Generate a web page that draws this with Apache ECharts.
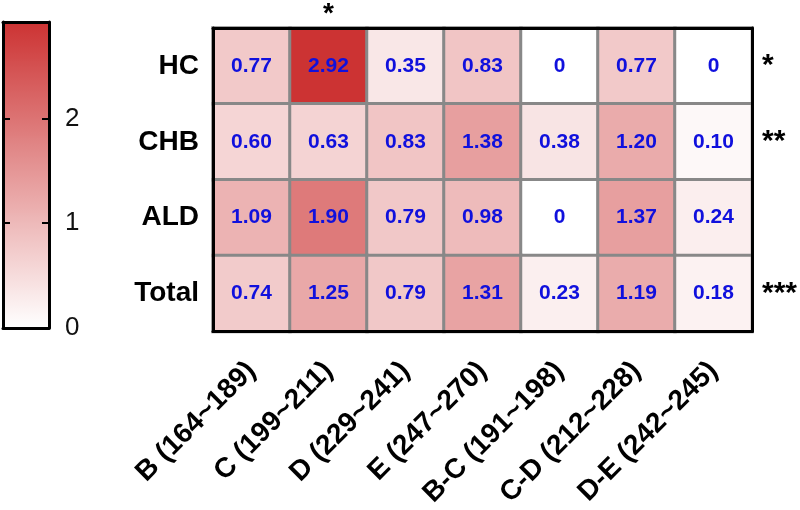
<!DOCTYPE html>
<html>
<head>
<meta charset="utf-8">
<script src="https://cdn.jsdelivr.net/npm/echarts@6/dist/echarts.min.js"></script>
<style>
  html, body { margin: 0; padding: 0; background: #fff; }
  #chart { width: 800px; height: 510px; }
</style>
</head>
<body>
<div id="chart"></div>
<script>
// 区段（横轴）与分组（纵轴）
const regions = ["B (164~189)", "C (199~211)", "D (229~241)", "E (247~270)", "B-C (191~198)", "C-D (212~228)", "D-E (242~245)"];
const groups = ["HC", "CHB", "ALD", "Total"];

// 每组的数值
const hcValues = [0.77, 2.92, 0.35, 0.83, 0, 0.77, 0];
const chbValues = [0.60, 0.63, 0.83, 1.38, 0.38, 1.20, 0.10];
const aldValues = [1.09, 1.90, 0.79, 0.98, 0, 1.37, 0.24];
const totalValues = [0.74, 1.25, 0.79, 1.31, 0.23, 1.19, 0.18];

// 显著性标记
const rowStars = ["*", "**", "", "***"];
const colStars = ["", "*", "", "", "", "", ""];

const colorMax = 2.92;

let rows = [hcValues, chbValues, aldValues, totalValues];
let heatData = [];
rows.forEach(function(vals, r) {
  vals.forEach(function(v, c) {
    heatData.push([c, r, v]);
  });
});

let myChart = echarts.init(document.getElementById("chart"));
let font = "Liberation Sans, Arial, sans-serif";
let blackLine = { onZero: false, lineStyle: { color: "#000", width: 3 } };
let option = {
  animation: false,
  textStyle: { fontFamily: font },
  grid: [
    { left: 213, top: 23, width: 539, height: 309 },
    // 色条
    { left: 3, top: 22, width: 46, height: 306 }
  ],
  xAxis: [
    {
      type: "category", data: regions, gridIndex: 0, position: "bottom", z: 10,
      axisLine: blackLine,
      axisTick: { show: false },
      splitLine: { show: false },
      axisLabel: { rotate: 45, margin: 35, color: "#000", fontWeight: "bold", fontSize: 28, interval: 0 }
    },
    {
      type: "category", data: colStars, gridIndex: 0, position: "top", z: 10,
      axisLine: blackLine,
      axisTick: { show: false },
      axisLabel: { margin: 0, color: "#000", fontWeight: "bold", fontSize: 28, interval: 0 }
    },
    {
      type: "value", gridIndex: 1, min: 0, max: 1, position: "bottom", z: 10,
      axisLine: blackLine, axisTick: { show: false }, axisLabel: { show: false }, splitLine: { show: false }
    },
    {
      type: "value", gridIndex: 1, min: 0, max: 1, position: "top", z: 10,
      axisLine: blackLine, axisTick: { show: false }, axisLabel: { show: false }, splitLine: { show: false }
    }
  ],
  yAxis: [
    {
      type: "category", data: groups, inverse: true, gridIndex: 0, position: "left", z: 10,
      axisLine: blackLine,
      axisTick: { show: false },
      splitLine: { show: false },
      axisLabel: { margin: 14, color: "#000", fontWeight: "bold", fontSize: 28 }
    },
    {
      type: "category", data: rowStars, inverse: true, gridIndex: 0, position: "right", z: 10,
      axisLine: blackLine,
      axisTick: { show: false },
      axisLabel: { margin: 10, color: "#000", fontWeight: "bold", fontSize: 30, padding: [20, 0, 0, 0] }
    },
    {
      type: "value", gridIndex: 1, min: 0, max: colorMax, interval: 1, position: "left", z: 10,
      axisLine: blackLine,
      axisTick: { inside: true, length: 7, lineStyle: { color: "#000", width: 2 } },
      axisLabel: { show: false },
      splitLine: { show: false }
    },
    {
      type: "value", gridIndex: 1, min: 0, max: colorMax, interval: 1, position: "right", z: 10,
      axisLine: blackLine,
      axisTick: { inside: true, length: 7, lineStyle: { color: "#000", width: 2 } },
      axisLabel: {
        margin: 16, color: "#111", fontSize: 26,
        formatter: function(v) { return v > colorMax - 0.5 ? "" : String(v); }
      },
      splitLine: { show: false }
    }
  ],
  visualMap: {
    type: "continuous",
    min: 0,
    max: colorMax,
    seriesIndex: 0,
    dimension: 2,
    calculable: false,
    left: 3,
    top: 22,
    itemWidth: 46,
    itemHeight: 306,
    padding: 0,
    text: null,
    showLabel: false,
    inRange: { color: ["#ffffff", "#cc3333"] }
  },
  series: [
    {
      type: "heatmap",
      xAxisIndex: 0,
      yAxisIndex: 0,
      data: heatData,
      itemStyle: { borderColor: "#888", borderWidth: 3 },
      label: {
        show: true,
        color: "#1010dd",
        fontWeight: "bold",
        fontSize: 21,
        formatter: function(p) {
          let v = p.value[2];
          return v === 0 ? "0" : v.toFixed(2);
        }
      },
      emphasis: { disabled: true }
    }
  ]
};
myChart.setOption(option);
</script>
</body>
</html>
